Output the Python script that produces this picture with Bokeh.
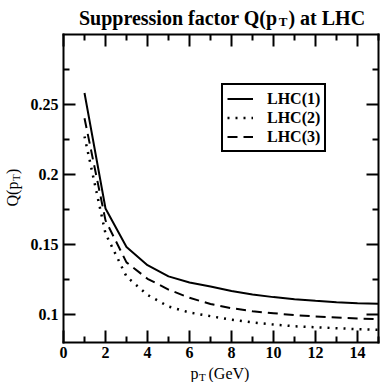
from math import pi
from bokeh.plotting import figure
from bokeh.models import Range1d, FixedTicker, LinearAxis, Label, Legend, LegendItem
from bokeh.embed import file_html
from bokeh.resources import INLINE

# ---- data ----
pt = [1, 2, 3, 4, 5, 6, 7, 8, 9, 10, 11, 12, 13, 14, 15]
lhc1 = [0.258, 0.1755, 0.148, 0.135, 0.127, 0.1227, 0.1198, 0.1165, 0.1141, 0.1122,
        0.1107, 0.1096, 0.1086, 0.1079, 0.1074]
lhc2 = [0.227, 0.1576, 0.1269, 0.1138, 0.1055, 0.1012, 0.0986, 0.0960, 0.0941, 0.0926,
        0.0914, 0.0907, 0.0900, 0.0893, 0.0889]
lhc3 = [0.240, 0.167, 0.137, 0.1253, 0.1176, 0.1117, 0.1073, 0.1043, 0.1021, 0.1007,
        0.0993, 0.0984, 0.0977, 0.0970, 0.0964]
series_names = ["LHC(1)", "LHC(2)", "LHC(3)"]

x_ticks = [0, 2, 4, 6, 8, 10, 12, 14]
x_tick_labels = ["0", "2", "4", "6", "8", "10", "12", "14"]
x_minor = [1, 3, 5, 7, 9, 11, 13, 15]
y_ticks = [0.10, 0.15, 0.20, 0.25]
y_tick_labels = ["0.1", "0.15", "0.2", "0.25"]
y_minor = [0.125, 0.175, 0.225, 0.275]

title_parts = ["Suppression factor Q(p", "T", ") at LHC"]
xlabel_parts = ["p", "T", "(GeV)"]
ylabel_parts = ["Q(p", "T", ")"]

X0, X1 = 0, 15          # visible data box
Y0, Y1 = 0.08, 0.30

SERIF = "Liberation Serif"

# ---- geometry: canvas size and where the data box sits on it (pixels) ----
W, H = 382, 382
BL, BR, BT, BB = 63.0, 378.0, 33.7, 341.7
sx = (BR - BL) / (X1 - X0)
sy = (BB - BT) / (Y1 - Y0)
XL, XR = X0 - BL / sx, X1 + (W - BR) / sx
YB, YT = Y0 - (H - BB) / sy, Y1 + BT / sy


def dx(px):
    return XL + px / sx


def dy(py):
    return YT - py / sy


# Times-compatible (Liberation Serif Bold) advance widths, in em
BOLD_W = {"S": .556, "u": .556, "p": .556, "r": .444, "e": .444, "s": .389, "i": .278,
          "o": .5, "n": .556, " ": .25, "f": .333, "a": .5, "c": .444, "t": .333,
          "Q": .778, "(": .333, ")": .333, "L": .667, "H": .778, "C": .722, "T": .667}
# Liberation Serif Regular advance widths, in em
REG_W = {"Q": .722, "(": .333, ")": .333, "p": .5, "T": .611}


def width(s, size, table):
    return sum(table.get(ch, .55) for ch in s) * size


p = figure(width=W, height=H, x_range=Range1d(XL, XR), y_range=Range1d(YB, YT),
           output_backend="svg", toolbar_location=None, title=None,
           x_axis_location=None, y_axis_location=None,
           min_border=0, min_border_left=0, min_border_right=0,
           min_border_top=0, min_border_bottom=0)
p.grid.visible = False
p.background_fill_color = "white"
p.border_fill_color = "white"
p.outline_line_color = None


def make_axis(ticks, minor, labels, loc, bounds, labelled):
    ax = LinearAxis(ticker=FixedTicker(ticks=ticks, minor_ticks=minor),
                    fixed_location=loc, bounds=bounds)
    ax.axis_line_width = 2
    ax.axis_line_color = "black"
    ax.axis_line_cap = "square"
    ax.major_tick_in = 12
    ax.major_tick_out = 0
    ax.minor_tick_in = 6
    ax.minor_tick_out = 0
    ax.major_tick_line_width = 2
    ax.minor_tick_line_width = 2
    ax.major_label_text_font = SERIF
    ax.major_label_text_font_style = "bold"
    ax.major_label_text_font_size = "16px"
    ax.major_label_standoff = 5
    if labelled:
        ax.major_label_overrides = dict(zip(ticks, labels))
        ax.major_label_text_color = "black"
    else:
        ax.major_label_text_color = None
    return ax


p.add_layout(make_axis(x_ticks, x_minor, x_tick_labels, Y0, (X0, X1), True), "below")
p.add_layout(make_axis(y_ticks, y_minor, y_tick_labels, X0, (Y0, Y1), True), "left")
p.add_layout(make_axis(x_ticks, x_minor, x_tick_labels, Y1, (X0, X1), False), "above")
p.add_layout(make_axis(y_ticks, y_minor, y_tick_labels, X1, (Y0, Y1), False), "right")

r1 = p.line(pt, lhc1, line_color="black", line_width=2)
r2 = p.line(pt, lhc2, line_color="black", line_width=2.5, line_dash="2 6")
r3 = p.line(pt, lhc3, line_color="black", line_width=2, line_dash="10 6")

legend = Legend(items=[LegendItem(label=series_names[0], renderers=[r1]),
                       LegendItem(label=series_names[1], renderers=[r2]),
                       LegendItem(label=series_names[2], renderers=[r3])],
                location=(221, H - 152), margin=0, padding=4, spacing=0,
                label_height=19, glyph_height=19, glyph_width=26, label_standoff=14,
                label_text_font=SERIF, label_text_font_style="bold",
                label_text_font_size="16px", label_text_color="black",
                border_line_color="black", border_line_width=2, border_line_alpha=1,
                background_fill_color="white", background_fill_alpha=1)
p.add_layout(legend, "center")

# ---- title with subscript (laid out from font metrics, centred over the box) ----
TS, TSUB = 20, 13
w0 = width(title_parts[0], TS, BOLD_W)
w1 = width(title_parts[1], TSUB, BOLD_W)
w2 = width(title_parts[2], TS, BOLD_W)
total = w0 + 1 + w1 + 1 + w2
tx = (70 + 373) / 2 - total / 2
title_kw = dict(text_font=SERIF, text_font_style="bold", text_color="black",
                text_baseline="alphabetic", text_align="left")
p.add_layout(Label(x=dx(tx), y=dy(17), text=title_parts[0], text_font_size=f"{TS}px", **title_kw))
p.add_layout(Label(x=dx(tx + w0 + 1), y=dy(21), text=title_parts[1],
                   text_font_size=f"{TSUB}px", **title_kw))
p.add_layout(Label(x=dx(tx + w0 + w1 + 2), y=dy(17), text=title_parts[2],
                   text_font_size=f"{TS}px", **title_kw))

# ---- axis labels with subscripts ----
lab_kw = dict(text_font=SERIF, text_color="black", text_baseline="alphabetic",
              text_align="left")
p.add_layout(Label(x=dx(190), y=dy(373), text=xlabel_parts[0], text_font_size="16px", **lab_kw))
p.add_layout(Label(x=dx(198.5), y=dy(376), text=xlabel_parts[1], text_font_size="11px", **lab_kw))
p.add_layout(Label(x=dx(208), y=dy(373), text=xlabel_parts[2], text_font_size="16px", **lab_kw))

YS, YSUB = 16, 11
y_start = 206
h0 = width(ylabel_parts[0], YS, REG_W)
h1 = width(ylabel_parts[1], YSUB, REG_W)
p.add_layout(Label(x=dx(12), y=dy(y_start), text=ylabel_parts[0], angle=pi / 2,
                   text_font_size=f"{YS}px", **lab_kw))
p.add_layout(Label(x=dx(15), y=dy(y_start - h0 - 0.5), text=ylabel_parts[1], angle=pi / 2,
                   text_font_size=f"{YSUB}px", **lab_kw))
p.add_layout(Label(x=dx(12), y=dy(y_start - h0 - h1 - 1), text=ylabel_parts[2], angle=pi / 2,
                   text_font_size=f"{YS}px", **lab_kw))

open("out.html", "w").write(file_html(p, INLINE))
